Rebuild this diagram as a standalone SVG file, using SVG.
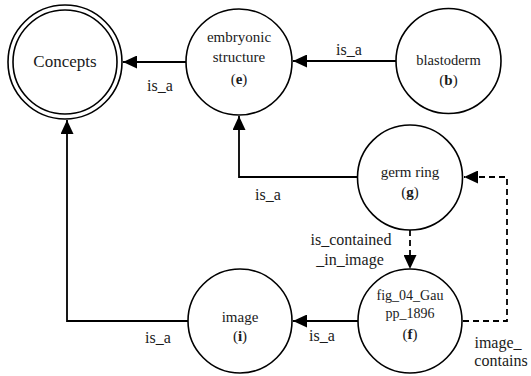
<svg xmlns="http://www.w3.org/2000/svg" width="531" height="376" viewBox="0 0 531 376">
<style>
  .node { fill: #fff; stroke: #000; stroke-width: 1.6; }
  .t { font-family: "Liberation Serif", "Times New Roman", serif; font-size: 15px; fill: #1a1a1a; text-anchor: middle; }
  .lbl { font-family: "Liberation Serif", "Times New Roman", serif; font-size: 16px; fill: #1a1a1a; text-anchor: middle; }
  .edge { fill: none; stroke: #000; stroke-width: 1.8; }
  .dash { stroke-dasharray: 6 4; }
  .b { font-weight: bold; }
</style>
<defs>
  <marker id="arr" viewBox="0 0 14 13" refX="14" refY="6.5" markerWidth="14" markerHeight="13" markerUnits="userSpaceOnUse" orient="auto">
    <path d="M0,0 L14,6.5 L0,13 Z" fill="#000"/>
  </marker>
</defs>
<g id="connectors">
  <path class="edge" d="M186,62 H123" marker-end="url(#arr)"/>
  <path class="edge" d="M396,61 H293" marker-end="url(#arr)"/>
  <path class="edge" d="M358,177 H239 V116" marker-end="url(#arr)"/>
  <path class="edge" d="M188,321 H67 V120" marker-end="url(#arr)"/>
  <path class="edge" d="M358,321 H293" marker-end="url(#arr)"/>
  <path class="edge dash" d="M410,230 V269" marker-end="url(#arr)"/>
  <path class="edge dash" d="M463,321 H507 V177 H464" marker-end="url(#arr)"/>
  <text class="lbl" x="160" y="91">is_a</text>
  <text class="lbl" x="349" y="55">is_a</text>
  <text class="lbl" x="268" y="200">is_a</text>
  <text class="lbl" x="158" y="343">is_a</text>
  <text class="lbl" x="322" y="341">is_a</text>
  <text class="lbl" x="351" y="245">is_contained</text>
  <text class="lbl" x="350" y="265">_in_image</text>
  <text class="lbl" x="498" y="348">image_</text>
  <text class="lbl" x="501" y="366">contains</text>
</g>
<g id="concepts">
  <circle class="node" cx="65" cy="62" r="57"/>
  <circle class="node" cx="65" cy="62" r="52"/>
  <text class="t" x="65" y="67" style="font-size:17px">Concepts</text>
</g>
<g id="e">
  <circle class="node" cx="239" cy="62" r="53"/>
  <text class="t" x="239" y="42">embryonic</text>
  <text class="t" x="239" y="62">structure</text>
  <text class="t" x="239" y="84">(<tspan class="b">e</tspan>)</text>
</g>
<g id="b">
  <circle class="node" cx="448.5" cy="61" r="52.5"/>
  <text class="t" x="448.5" y="65" style="font-size:14.5px">blastoderm</text>
  <text class="t" x="448.5" y="85">(<tspan class="b">b</tspan>)</text>
</g>
<g id="g">
  <circle class="node" cx="410" cy="177.5" r="52.5"/>
  <text class="t" x="410" y="177">germ ring</text>
  <text class="t" x="410" y="197">(<tspan class="b">g</tspan>)</text>
</g>
<g id="f">
  <circle class="node" cx="410" cy="321" r="52"/>
  <text class="t" x="410" y="300" style="font-size:14px">fig_04_Gau</text>
  <text class="t" x="410" y="318" style="font-size:14px">pp_1896</text>
  <text class="t" x="410" y="339">(<tspan class="b">f</tspan>)</text>
</g>
<g id="i">
  <circle class="node" cx="240" cy="321" r="52"/>
  <text class="t" x="240" y="322">image</text>
  <text class="t" x="240" y="341">(<tspan class="b">i</tspan>)</text>
</g>
</svg>
